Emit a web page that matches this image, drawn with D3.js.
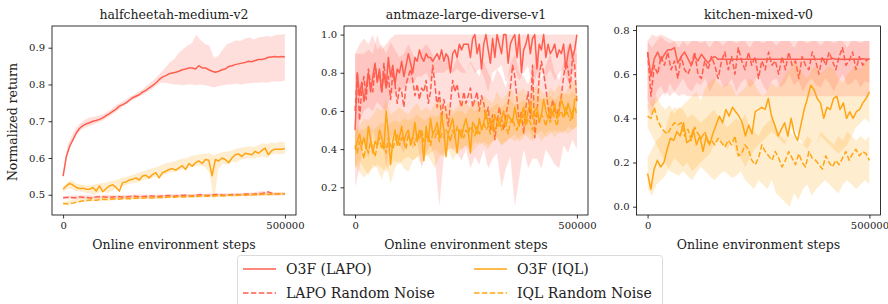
<!DOCTYPE html>
<html><head><meta charset="utf-8">
<script src="https://cdn.jsdelivr.net/npm/d3@7"></script>
<style>body{margin:0;background:#fff}svg{display:block}text{font-family:"DejaVu Serif",serif;fill:#222}</style>
</head><body><svg id="c" width="888" height="304"></svg>
<script>
const STEPS = 500000;
const xTicks = [0, 500000];
const titles = ["halfcheetah-medium-v2", "antmaze-large-diverse-v1", "kitchen-mixed-v0"];
const legendLabels = ["O3F (LAPO)", "LAPO Random Noise", "O3F (IQL)", "IQL Random Noise"];
const hcYTicks = [0.5, 0.6, 0.7, 0.8, 0.9];
const amYTicks = [0.2, 0.4, 0.6, 0.8, 1.0];
const kmYTicks = [0.0, 0.2, 0.4, 0.6, 0.8];

// ---- halfcheetah-medium-v2 ----
const hcLapo = [0.551,0.605,0.632,0.650,0.668,0.681,0.688,0.693,0.696,0.700,0.702,0.705,0.709,0.715,0.721,0.727,0.733,0.741,0.745,0.750,0.757,0.764,0.768,0.772,0.779,0.784,0.791,0.797,0.804,0.813,0.820,0.824,0.829,0.831,0.833,0.836,0.840,0.842,0.845,0.845,0.842,0.851,0.845,0.845,0.840,0.836,0.833,0.836,0.840,0.842,0.849,0.851,0.854,0.856,0.858,0.860,0.863,0.862,0.865,0.868,0.868,0.870,0.874,0.875,0.876,0.875,0.876,0.875];
const hcLapoLo = [0.545,0.615,0.642,0.663,0.676,0.683,0.688,0.692,0.697,0.702,0.710,0.718,0.726,0.735,0.744,0.752,0.759,0.766,0.772,0.780,0.787,0.797,0.805,0.805,0.802,0.800,0.800,0.798,0.800,0.800,0.798,0.800,0.798,0.795,0.792,0.795,0.798,0.800,0.800,0.802,0.800,0.802,0.803,0.805,0.805,0.806,0.805,0.808,0.808,0.808,0.810];
const hcLapoHi = [0.556,0.635,0.662,0.683,0.696,0.705,0.710,0.712,0.715,0.718,0.726,0.734,0.744,0.750,0.758,0.766,0.773,0.780,0.788,0.798,0.808,0.818,0.832,0.845,0.860,0.868,0.885,0.895,0.905,0.912,0.935,0.920,0.910,0.905,0.872,0.878,0.895,0.910,0.915,0.920,0.918,0.925,0.928,0.922,0.928,0.930,0.932,0.930,0.935,0.935,0.938];
const hcLapoNoise = [0.492,0.493,0.492,0.494,0.493,0.491,0.494,0.495,0.493,0.494,0.495,0.493,0.495,0.496,0.494,0.496,0.497,0.495,0.497,0.498,0.496,0.498,0.499,0.497,0.499,0.500,0.498,0.500,0.501,0.499,0.500,0.501,0.500,0.502,0.501,0.503,0.504,0.508,0.502,0.503,0.503];
const hcLapoNoiseLo = [0.488,0.488,0.489,0.489,0.490,0.490,0.491,0.491,0.492,0.492,0.493,0.494,0.494,0.495,0.495,0.496,0.497,0.497,0.498,0.498,0.499];
const hcLapoNoiseHi = [0.497,0.498,0.499,0.498,0.500,0.499,0.500,0.501,0.500,0.501,0.502,0.502,0.503,0.503,0.504,0.504,0.505,0.506,0.510,0.506,0.507];
const hcIql = [0.515,0.524,0.531,0.526,0.520,0.517,0.518,0.515,0.515,0.520,0.510,0.524,0.508,0.517,0.524,0.527,0.520,0.510,0.533,0.535,0.540,0.542,0.546,0.540,0.551,0.553,0.546,0.555,0.560,0.546,0.560,0.564,0.569,0.571,0.567,0.573,0.579,0.569,0.585,0.578,0.587,0.592,0.585,0.596,0.594,0.552,0.596,0.592,0.600,0.596,0.587,0.600,0.609,0.611,0.604,0.613,0.611,0.609,0.618,0.613,0.620,0.627,0.609,0.620,0.624,0.624,0.624,0.625];
const hcIqlLo = [0.507,0.518,0.515,0.510,0.508,0.506,0.504,0.500,0.505,0.510,0.505,0.510,0.518,0.522,0.525,0.530,0.532,0.535,0.540,0.542,0.545,0.550,0.552,0.555,0.560,0.562,0.565,0.570,0.572,0.575,0.578,0.580,0.575,0.560,0.480,0.570,0.585,0.582,0.590,0.588,0.595,0.598,0.600,0.598,0.602,0.605,0.600,0.610,0.612,0.610,0.612];
const hcIqlHi = [0.522,0.534,0.540,0.530,0.528,0.526,0.525,0.528,0.530,0.532,0.535,0.538,0.540,0.545,0.548,0.552,0.556,0.560,0.564,0.568,0.572,0.575,0.580,0.585,0.588,0.590,0.595,0.598,0.600,0.606,0.608,0.610,0.612,0.612,0.608,0.612,0.616,0.618,0.620,0.625,0.628,0.630,0.632,0.630,0.635,0.640,0.638,0.642,0.640,0.645,0.642];
const hcIqlNoise = [0.476,0.475,0.478,0.482,0.484,0.486,0.485,0.488,0.487,0.489,0.488,0.490,0.489,0.491,0.490,0.492,0.491,0.493,0.492,0.494,0.493,0.495,0.494,0.496,0.495,0.497,0.496,0.497,0.498,0.497,0.499,0.498,0.500,0.499,0.501,0.500,0.502,0.501,0.502,0.503,0.503];
const hcIqlNoiseLo = [0.472,0.478,0.481,0.483,0.484,0.486,0.487,0.488,0.489,0.490,0.491,0.492,0.492,0.493,0.494,0.495,0.496,0.496,0.497,0.498,0.499];
const hcIqlNoiseHi = [0.480,0.488,0.492,0.494,0.494,0.495,0.496,0.497,0.497,0.498,0.499,0.500,0.500,0.501,0.502,0.502,0.503,0.504,0.505,0.506,0.507];

// ---- antmaze-large-diverse-v1 ----
const amLapo = [0.50,0.80,0.68,0.75,0.65,0.72,0.80,0.70,0.78,0.85,0.75,0.82,0.70,0.80,0.72,0.88,0.78,0.84,0.74,0.82,0.80,0.86,0.78,0.84,0.90,0.85,0.80,0.88,0.86,0.92,0.88,0.86,0.90,0.88,0.88,0.86,0.88,0.90,0.87,0.92,0.86,0.90,0.88,0.80,0.90,0.92,0.88,0.95,0.92,0.95,0.95,0.95,0.88,0.98,1.0,0.90,0.95,0.82,0.95,1.0,0.92,0.85,0.98,0.88,1.0,0.95,0.90,1.0,1.0,0.85,0.95,0.98,1.0,0.88,1.0,0.80,0.92,0.95,1.0,0.90,0.98,1.0,0.82,0.95,0.92,1.0,0.88,0.95,0.90,0.92,0.95,0.88,0.92,0.90,0.95,0.82,0.90,0.95,0.88,0.92,1.0];
const amLapoLo = [0.30,0.55,0.60,0.62,0.60,0.65,0.62,0.60,0.68,0.70,0.70,0.72,0.75,0.74,0.78,0.78,0.80,0.76,0.80,0.80,0.80,0.82,0.80,0.82,0.80,0.80,0.85,0.80,0.82,0.78,0.70,0.80,0.82,0.84,0.75,0.80,0.82,0.76,0.80,0.84,0.72,0.80,0.80,0.78,0.82,0.76,0.80,0.82,0.75,0.80,0.85];
const amLapoHi = [0.90,0.90,0.90,0.92,0.90,1.0,0.92,0.95,0.98,1.0,1.0,1.0,1.0,1.0,1.0,1.0,1.0,1.0,1.0,1.0,1.0,1.0,1.0,1.0,1.0,1.0,1.0,1.0,1.0,1.0,1.0,1.0,1.0,1.0,1.0,1.0,1.0,1.0,1.0,1.0,1.0,1.0,1.0,1.0,1.0,1.0,1.0,1.0,1.0,1.0,1.0];
const amLapoNoise = [0.60,0.80,0.55,0.72,0.78,0.66,0.82,0.74,0.70,0.84,0.76,0.80,0.70,0.85,0.72,0.78,0.66,0.80,0.74,0.64,0.72,0.70,0.62,0.74,0.78,0.82,0.76,0.68,0.74,0.66,0.72,0.70,0.76,0.64,0.70,0.84,0.74,0.62,0.70,0.56,0.66,0.60,0.52,0.64,0.76,0.70,0.74,0.66,0.62,0.70,0.64,0.68,0.72,0.62,0.66,0.70,0.60,0.68,0.64,0.56,0.62,0.50,0.58,0.45,0.54,0.62,0.56,0.50,0.58,0.64,0.72,0.84,0.78,0.66,0.54,0.60,0.48,0.62,0.70,0.56,0.84,0.46,0.58,0.78,0.86,0.80,0.72,0.62,0.56,0.66,0.60,0.58,0.62,0.68,0.78,0.86,0.82,0.72,0.88,0.84,0.64];
const amLapoNoiseLo = [0.20,0.30,0.45,0.35,0.50,0.40,0.48,0.30,0.45,0.50,0.42,0.38,0.46,0.40,0.44,0.30,0.38,0.42,0.35,0.10,0.36,0.42,0.40,0.38,0.34,0.40,0.30,0.36,0.32,0.40,0.30,0.35,0.38,0.20,0.30,0.36,0.10,0.25,0.40,0.30,0.35,0.35,0.30,0.40,0.36,0.32,0.30,0.42,0.38,0.45,0.40];
const amLapoNoiseHi = [0.90,0.95,0.98,0.95,1.0,0.92,0.95,0.90,0.96,0.92,0.88,0.90,0.95,0.90,0.85,0.92,0.95,0.92,0.86,0.88,0.85,0.90,0.82,0.88,0.84,0.80,0.86,0.82,0.78,0.86,0.80,0.75,0.82,0.78,0.72,0.85,0.90,0.80,0.78,0.74,0.80,0.92,0.76,0.84,0.90,0.80,0.76,0.86,0.95,0.92,0.90];
const amIql = [0.40,0.44,0.48,0.42,0.46,0.40,0.52,0.45,0.38,0.44,0.42,0.50,0.46,0.40,0.60,0.48,0.32,0.44,0.50,0.42,0.46,0.52,0.44,0.48,0.50,0.42,0.46,0.54,0.44,0.50,0.48,0.34,0.52,0.44,0.56,0.48,0.50,0.54,0.46,0.58,0.50,0.36,0.48,0.52,0.56,0.48,0.38,0.50,0.46,0.52,0.56,0.50,0.38,0.54,0.52,0.48,0.56,0.50,0.54,0.60,0.52,0.56,0.50,0.58,0.54,0.52,0.56,0.60,0.52,0.58,0.56,0.54,0.62,0.56,0.52,0.58,0.62,0.54,0.60,0.64,0.56,0.60,0.62,0.54,0.58,0.66,0.60,0.56,0.62,0.58,0.64,0.56,0.60,0.66,0.62,0.58,0.64,0.60,0.56,0.66,0.67];
const amIqlLo = [0.30,0.34,0.30,0.26,0.32,0.30,0.24,0.32,0.22,0.30,0.34,0.30,0.28,0.34,0.36,0.32,0.38,0.34,0.30,0.36,0.38,0.40,0.34,0.38,0.40,0.42,0.38,0.40,0.44,0.42,0.40,0.44,0.46,0.42,0.44,0.46,0.48,0.44,0.46,0.50,0.46,0.48,0.44,0.48,0.50,0.46,0.50,0.48,0.52,0.50,0.52];
const amIqlHi = [0.50,0.52,0.56,0.55,0.58,0.62,0.60,0.66,0.58,0.60,0.62,0.60,0.58,0.62,0.64,0.60,0.62,0.60,0.64,0.66,0.62,0.64,0.60,0.62,0.66,0.64,0.62,0.66,0.64,0.68,0.66,0.64,0.70,0.66,0.68,0.72,0.68,0.70,0.72,0.66,0.70,0.74,0.70,0.68,0.72,0.70,0.74,0.68,0.72,0.76,0.74];
const amIqlNoise = [0.42,0.38,0.44,0.40,0.35,0.42,0.38,0.44,0.40,0.36,0.42,0.46,0.40,0.44,0.38,0.46,0.42,0.40,0.44,0.48,0.42,0.46,0.44,0.40,0.48,0.44,0.46,0.42,0.48,0.45,0.50,0.44,0.46,0.48,0.42,0.48,0.46,0.50,0.44,0.48,0.46,0.50,0.48,0.44,0.50,0.46,0.52,0.48,0.50,0.46,0.50,0.48,0.52,0.50,0.47,0.52,0.48,0.50,0.54,0.50,0.52,0.48,0.54,0.50,0.52,0.56,0.50,0.54,0.52,0.48,0.54,0.56,0.52,0.50,0.56,0.54,0.58,0.52,0.56,0.54,0.50,0.56,0.60,0.54,0.58,0.56,0.52,0.58,0.54,0.60,0.56,0.52,0.58,0.60,0.56,0.62,0.58,0.55,0.60,0.62,0.58];
const amIqlNoiseLo = [0.32,0.28,0.25,0.28,0.30,0.32,0.30,0.28,0.32,0.34,0.32,0.35,0.36,0.34,0.36,0.38,0.36,0.38,0.40,0.38,0.36,0.40,0.40,0.42,0.40,0.42,0.40,0.44,0.42,0.44,0.42,0.44,0.46,0.42,0.44,0.46,0.44,0.46,0.48,0.46,0.44,0.48,0.50,0.46,0.48,0.50,0.48,0.50,0.48,0.50,0.52];
const amIqlNoiseHi = [0.50,0.50,0.50,0.52,0.50,0.52,0.54,0.52,0.54,0.55,0.54,0.56,0.55,0.56,0.58,0.56,0.55,0.58,0.57,0.58,0.60,0.58,0.58,0.60,0.60,0.58,0.62,0.60,0.62,0.62,0.60,0.62,0.64,0.62,0.64,0.66,0.63,0.64,0.66,0.64,0.66,0.68,0.66,0.67,0.68,0.66,0.68,0.70,0.68,0.70,0.68];

// ---- kitchen-mixed-v0 ----
const kmLapo = [0.70,0.59,0.67,0.70,0.66,0.69,0.71,0.71,0.72,0.65,0.68,0.70,0.67,0.64,0.68,0.66,0.69,0.67,0.65,0.67,0.68,0.667,0.667,0.667,0.667,0.667,0.667,0.667,0.667,0.667,0.667,0.667,0.667,0.667,0.667,0.667,0.667,0.667,0.667,0.667,0.667,0.667,0.667,0.667,0.667,0.667,0.667,0.667,0.667,0.667,0.667,0.667,0.667,0.667,0.667,0.672,0.667,0.667,0.667,0.667,0.667,0.667,0.667,0.667,0.670,0.667,0.667];
const kmLapoLo = [0.48,0.45,0.47,0.50,0.52,0.50,0.52,0.50,0.51,0.50,0.50,0.50,0.50,0.50,0.50,0.50,0.50,0.50,0.50,0.50,0.50,0.50,0.50,0.50,0.50,0.50,0.50,0.50,0.50,0.50,0.50,0.50,0.50,0.50,0.50,0.50,0.50,0.50,0.50,0.50,0.50,0.50,0.50,0.50,0.50,0.50,0.50,0.50,0.50,0.50,0.50];
const kmLapoHi = [0.75,0.78,0.77,0.78,0.77,0.76,0.75,0.75,0.75,0.75,0.75,0.75,0.75,0.75,0.75,0.75,0.75,0.75,0.75,0.75,0.75,0.75,0.75,0.75,0.75,0.75,0.75,0.75,0.75,0.75,0.75,0.75,0.75,0.75,0.75,0.75,0.75,0.75,0.75,0.75,0.75,0.75,0.75,0.75,0.75,0.75,0.75,0.75,0.75,0.75,0.75];
const kmLapoNoise = [0.70,0.50,0.64,0.60,0.68,0.64,0.70,0.62,0.66,0.58,0.68,0.62,0.60,0.64,0.70,0.60,0.58,0.66,0.62,0.68,0.64,0.58,0.66,0.70,0.62,0.68,0.60,0.72,0.66,0.62,0.70,0.64,0.68,0.58,0.66,0.62,0.70,0.64,0.66,0.60,0.68,0.62,0.70,0.64,0.66,0.58,0.68,0.64,0.62,0.70,0.66,0.60,0.68,0.64,0.70,0.66,0.62,0.68,0.72,0.64,0.66,0.70,0.62,0.68,0.64,0.66,0.67];
const kmLapoNoiseLo = [0.45,0.40,0.52,0.55,0.50,0.56,0.52,0.55,0.58,0.54,0.52,0.56,0.55,0.58,0.52,0.56,0.60,0.54,0.55,0.58,0.52,0.56,0.58,0.54,0.56,0.60,0.55,0.52,0.57,0.58,0.54,0.56,0.60,0.55,0.57,0.52,0.56,0.58,0.55,0.54,0.58,0.56,0.52,0.57,0.60,0.55,0.56,0.58,0.54,0.57,0.56];
const kmLapoNoiseHi = [0.75,0.72,0.75,0.77,0.75,0.74,0.75,0.72,0.75,0.73,0.75,0.75,0.74,0.75,0.72,0.75,0.75,0.73,0.75,0.75,0.74,0.75,0.75,0.72,0.75,0.75,0.74,0.75,0.75,0.73,0.75,0.75,0.75,0.72,0.75,0.75,0.74,0.75,0.75,0.73,0.75,0.75,0.74,0.75,0.75,0.72,0.75,0.75,0.74,0.75,0.75];
const kmIql = [0.15,0.08,0.17,0.21,0.18,0.20,0.26,0.31,0.30,0.34,0.32,0.38,0.29,0.30,0.35,0.28,0.32,0.25,0.32,0.28,0.33,0.37,0.41,0.38,0.44,0.41,0.45,0.43,0.41,0.38,0.32,0.37,0.33,0.43,0.44,0.45,0.44,0.49,0.41,0.37,0.32,0.35,0.38,0.32,0.40,0.33,0.30,0.37,0.44,0.49,0.55,0.53,0.49,0.47,0.40,0.45,0.44,0.49,0.50,0.44,0.47,0.40,0.43,0.40,0.43,0.44,0.47,0.49,0.52];
const kmIqlLo = [0.08,0.05,0.10,0.12,0.14,0.18,0.22,0.20,0.18,0.20,0.16,0.18,0.20,0.22,0.24,0.28,0.30,0.28,0.26,0.30,0.24,0.22,0.18,0.22,0.26,0.28,0.30,0.32,0.34,0.32,0.30,0.28,0.34,0.36,0.32,0.28,0.26,0.30,0.28,0.32,0.30,0.28,0.26,0.24,0.26,0.28,0.32,0.36,0.38,0.40,0.38];
const kmIqlHi = [0.22,0.26,0.30,0.32,0.35,0.42,0.45,0.44,0.46,0.48,0.50,0.52,0.48,0.54,0.56,0.58,0.56,0.54,0.56,0.55,0.50,0.52,0.54,0.58,0.56,0.52,0.50,0.52,0.56,0.54,0.56,0.60,0.62,0.66,0.64,0.60,0.58,0.62,0.64,0.60,0.62,0.64,0.62,0.58,0.56,0.60,0.62,0.64,0.62,0.65,0.66];
const kmIqlNoise = [0.41,0.40,0.45,0.39,0.36,0.34,0.33,0.36,0.38,0.37,0.38,0.32,0.35,0.30,0.36,0.33,0.31,0.34,0.29,0.30,0.28,0.31,0.29,0.27,0.30,0.28,0.32,0.23,0.24,0.28,0.26,0.21,0.19,0.22,0.28,0.25,0.23,0.21,0.25,0.22,0.18,0.21,0.25,0.22,0.19,0.24,0.20,0.18,0.25,0.22,0.21,0.19,0.17,0.23,0.20,0.18,0.21,0.19,0.22,0.25,0.21,0.24,0.26,0.23,0.25,0.24,0.21];
const kmIqlNoiseLo = [0.36,0.32,0.28,0.24,0.20,0.16,0.15,0.14,0.16,0.14,0.12,0.15,0.18,0.16,0.14,0.12,0.14,0.16,0.15,0.13,0.14,0.16,0.12,0.10,0.08,0.12,0.10,0.08,0.12,0.06,0.04,0.02,0.00,0.06,0.03,0.08,0.10,0.05,0.08,0.10,0.12,0.10,0.08,0.06,0.10,0.12,0.10,0.08,0.10,0.12,0.10];
const kmIqlNoiseHi = [0.46,0.48,0.50,0.46,0.44,0.46,0.42,0.45,0.44,0.40,0.42,0.40,0.38,0.40,0.42,0.44,0.40,0.38,0.36,0.38,0.40,0.38,0.42,0.36,0.34,0.32,0.36,0.38,0.40,0.36,0.32,0.30,0.34,0.32,0.30,0.28,0.32,0.30,0.28,0.34,0.32,0.30,0.28,0.32,0.30,0.34,0.32,0.30,0.32,0.30,0.32];

const RED = "#ff5e4f", ORANGE = "#ffa514";
const svg = d3.select("#c");

const panels = [
  {title: titles[0], left: 52, yDomain: [0.445, 0.959], yTicks: hcYTicks,
   series: [[hcLapo, hcLapoLo, hcLapoHi, RED, false],[hcLapoNoise, hcLapoNoiseLo, hcLapoNoiseHi, RED, true],
            [hcIql, hcIqlLo, hcIqlHi, ORANGE, false],[hcIqlNoise, hcIqlNoiseLo, hcIqlNoiseHi, ORANGE, true]]},
  {title: titles[1], left: 344, yDomain: [0.055, 1.045], yTicks: amYTicks,
   series: [[amLapo, amLapoLo, amLapoHi, RED, false],[amLapoNoise, amLapoNoiseLo, amLapoNoiseHi, RED, true],
            [amIql, amIqlLo, amIqlHi, ORANGE, false],[amIqlNoise, amIqlNoiseLo, amIqlNoiseHi, ORANGE, true]]},
  {title: titles[2], left: 636.5, yDomain: [-0.0376, 0.818], yTicks: kmYTicks,
   series: [[kmLapo, kmLapoLo, kmLapoHi, RED, false],[kmLapoNoise, kmLapoNoiseLo, kmLapoNoiseHi, RED, true],
            [kmIql, kmIqlLo, kmIqlHi, ORANGE, false],[kmIqlNoise, kmIqlNoiseLo, kmIqlNoiseHi, ORANGE, true]]}
];
const W = 244, TOP = 26, BOTTOM = 215;
const pts = arr => arr.map((v, i) => [i * STEPS / (arr.length - 1), v]);

panels.forEach((p, pi) => {
  const x = d3.scaleLinear().domain([-25000, 525000]).range([p.left, p.left + W]);
  const y = d3.scaleLinear().domain(p.yDomain).range([BOTTOM, TOP]);
  const clipId = "clip" + pi;
  svg.append("clipPath").attr("id", clipId).append("rect")
    .attr("x", p.left).attr("y", TOP).attr("width", W).attr("height", BOTTOM - TOP);
  const g = svg.append("g").attr("clip-path", `url(#${clipId})`);
  const line = d3.line().x(d => x(d[0])).y(d => y(d[1]));
  p.series.forEach(([mean, lo, hi, color, dashed]) => {
    const band = lo.map((v, i) => [i * STEPS / (lo.length - 1), v, hi[i]]);
    g.append("path").datum(band)
      .attr("d", d3.area().x(d => x(d[0])).y0(d => y(d[1])).y1(d => y(d[2])))
      .attr("fill", color).attr("fill-opacity", 0.2).attr("stroke", "none");
    g.append("path").datum(pts(mean)).attr("d", line)
      .attr("fill", "none").attr("stroke", color).attr("stroke-width", 1.5)
      .attr("stroke-linejoin", "round")
      .attr("stroke-dasharray", dashed ? "5.5,2.4" : null);
  });
  const xa = svg.append("g").attr("transform", `translate(0,${BOTTOM})`)
    .call(d3.axisBottom(x).tickValues(xTicks).tickFormat(d3.format("d")).tickSize(3.5).tickPadding(3.5));
  const ya = svg.append("g").attr("transform", `translate(${p.left},0)`)
    .call(d3.axisLeft(y).tickValues(p.yTicks).tickFormat(d3.format(".1f")).tickSize(3.5).tickPadding(3.5));
  [xa, ya].forEach(a => {
    a.select(".domain").remove();
    a.selectAll("line").attr("stroke", "#000").attr("stroke-width", 0.8);
    a.selectAll("text").attr("font-family", "DejaVu Serif").attr("font-size", 10).attr("fill", "#222");
  });
  svg.append("rect").attr("x", p.left).attr("y", TOP).attr("width", W).attr("height", BOTTOM - TOP)
    .attr("fill", "none").attr("stroke", "#000").attr("stroke-width", 0.8);
  svg.append("text").attr("x", p.left + W / 2).attr("y", 19).attr("text-anchor", "middle")
    .attr("font-size", 12.5).text(p.title);
  svg.append("text").attr("x", p.left + W / 2).attr("y", 249).attr("text-anchor", "middle")
    .attr("font-size", 12.5).text("Online environment steps");
});
svg.append("text").attr("transform", "translate(17,122) rotate(-90)").attr("text-anchor", "middle")
  .attr("font-size", 12.5).text("Normalized return");

// legend
const lg = svg.append("g");
lg.append("rect").attr("x", 237.5).attr("y", 255.5).attr("width", 425).attr("height", 60).attr("rx", 3)
  .attr("fill", "#fff").attr("fill-opacity", 0.8).attr("stroke", "#d0d0d0").attr("stroke-width", 0.8);
const legItems = [[legendLabels[0], RED, false, 243, 269], [legendLabels[1], RED, true, 243, 293],
                  [legendLabels[2], ORANGE, false, 474, 269], [legendLabels[3], ORANGE, true, 474, 293]];
legItems.forEach(([label, color, dashed, lx, ly]) => {
  lg.append("line").attr("x1", lx).attr("x2", lx + 33).attr("y1", ly).attr("y2", ly)
    .attr("stroke", color).attr("stroke-width", 1.5).attr("stroke-dasharray", dashed ? "5.5,2.4" : null);
  lg.append("text").attr("x", lx + 43).attr("y", ly + 5).attr("font-size", 14).text(label);
});
</script></body></html>
